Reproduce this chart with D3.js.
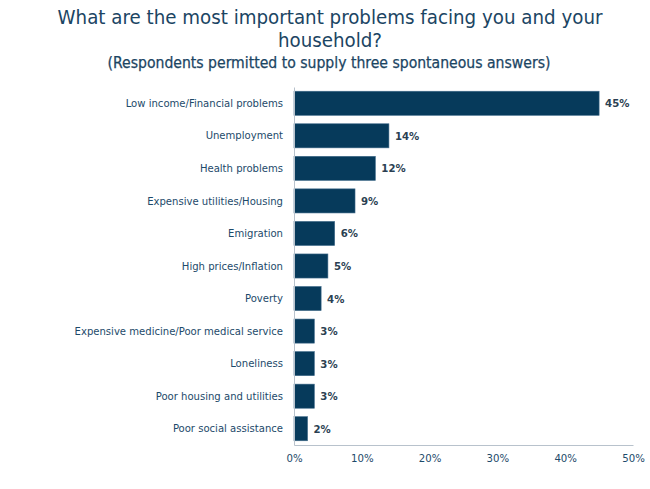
<!DOCTYPE html>
<html>
<head>
<meta charset="utf-8">
<script src="https://cdn.jsdelivr.net/npm/d3@7"></script>
<style>
  body { margin: 0; background: #fff; }
  svg text { font-family: "DejaVu Sans Condensed", "DejaVu Sans", sans-serif; }
</style>
</head>
<body>
<div id="chart"></div>
<script>
var categories = ["Low income/Financial problems", "Unemployment", "Health problems",
  "Expensive utilities/Housing", "Emigration", "High prices/Inflation", "Poverty",
  "Expensive medicine/Poor medical service", "Loneliness", "Poor housing and utilities",
  "Poor social assistance"];
var values = [45, 14, 12, 9, 6, 5, 4, 3, 3, 3, 2];
var ticks = [0, 10, 20, 30, 40, 50];

var width = 650, height = 489;
var margin = {top: 87, right: 17, bottom: 44, left: 294};

var svg = d3.select("#chart").append("svg")
  .attr("width", width).attr("height", height);

// titles
svg.append("text").attr("x", 330).attr("y", 24)
  .attr("text-anchor", "middle").attr("fill", "#1b4563")
  .style("font-size", "20.3px")
  .text("What are the most important problems facing you and your");
svg.append("text").attr("x", 330).attr("y", 47)
  .attr("text-anchor", "middle").attr("fill", "#1b4563")
  .style("font-size", "20.3px")
  .text("household?");
svg.append("text").attr("x", 329).attr("y", 68)
  .attr("text-anchor", "middle").attr("fill", "#1b4563")
  .style("font-size", "15.6px")
  .attr("stroke", "#1b4563").attr("stroke-width", 0.25)
  .text("(Respondents permitted to supply three spontaneous answers)");

var x = d3.scaleLinear().domain([0, 50]).range([margin.left, width - margin.right]);
var y = d3.scaleBand().domain(categories)
  .range([margin.top, height - margin.bottom]).paddingInner(0.26).paddingOuter(0.13);

var g = svg.append("g");

g.selectAll("rect.bar").data(values).enter().append("rect")
  .attr("class", "bar")
  .attr("x", x(0))
  .attr("y", function(d, i){ return y(categories[i]); })
  .attr("width", function(d){ return x(d) - x(0); })
  .attr("height", y.bandwidth())
  .attr("fill", "#063a5b")
  .attr("stroke", "#3f6a8a").attr("stroke-width", 0.6);

g.selectAll("text.val").data(values).enter().append("text")
  .attr("class", "val")
  .attr("x", function(d){ return x(d) + 6; })
  .attr("y", function(d, i){ return y(categories[i]) + y.bandwidth() / 2; })
  .attr("dy", "0.35em")
  .attr("fill", "#2b3f52")
  .style("font-size", "11.3px").style("font-weight", "bold")
  .text(function(d){ return d + "%"; });

// category labels
var yAxis = svg.append("g").attr("transform", "translate(" + x(0) + ",0)")
  .call(d3.axisLeft(y).tickSize(0).tickPadding(11));
yAxis.select(".domain").attr("stroke", "#b8c2cc");
yAxis.selectAll("text").attr("fill", "#1d4a6a").style("font-size", "11.2px");

// x axis
var xAxis = svg.append("g").attr("transform", "translate(0," + (height - margin.bottom) + ")")
  .call(d3.axisBottom(x).tickValues(ticks).tickSize(0).tickPadding(9)
    .tickFormat(function(d){ return d + "%"; }));
xAxis.select(".domain").attr("stroke", "#b8c2cc");
xAxis.selectAll("text").attr("fill", "#1d4a6a").style("font-size", "11.3px");
</script>
</body>
</html>
